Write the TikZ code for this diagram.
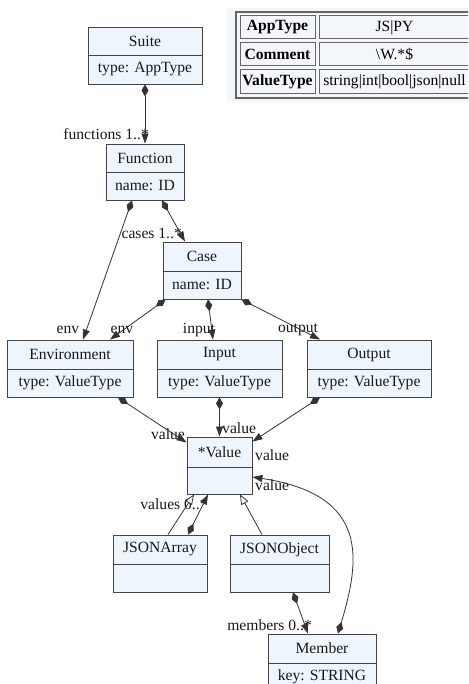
\documentclass[tikz,border=0pt]{standalone}
\usepackage{fontspec}
\setmainfont{Liberation Serif}
\usetikzlibrary{arrows.meta,calc}
\definecolor{nodefill}{HTML}{EEF5FD}
\definecolor{tabfill}{HTML}{F3F7FB}
\definecolor{edgecol}{HTML}{333333}
\definecolor{boxline}{HTML}{444444}
\definecolor{tabline}{HTML}{666666}
\newcommand\umlclass[8]{% name, cx, top, div, bottom, width, title, attr
  \node[cls, minimum width=#6pt, minimum height={#5pt-#3pt}] (#1) at (#2,{(#3+#5)/2}) {};
  \draw[divline] ({#2-#6/2},#4) -- ({#2+#6/2},#4);
  \node[txt] (#1-t) at (#2,{(#3+#4)/2}) {#7};
  \node[txt] (#1-a) at (#2,{(#4+#5)/2}) {#8};
}
\tikzset{
  cls/.style={draw=boxline, fill=nodefill, line width=0.9pt, inner sep=0pt, rectangle},
  divline/.style={draw=boxline, line width=0.9pt},
  txt/.style={font=\fontsize{15.6}{18}\selectfont, inner sep=0pt, text=black!90},
  lbl/.style={font=\fontsize{15.6}{18}\selectfont, inner sep=0pt, text=black!90},
  comp/.style={draw=edgecol, line width=0.8pt, {Diamond[length=12pt,width=7pt]}-{Triangle[length=10pt,width=7pt]}},
  inh/.style={draw=edgecol, line width=0.8pt, -{Triangle[open,length=10pt,width=8pt,fill=white]}},
  cell/.style={draw=tabline, line width=1pt, fill=tabfill, inner sep=0pt, font=\fontsize{15.6}{18}\selectfont},
}
\begin{document}
\begin{tikzpicture}[x=1pt,y=-1pt]
\useasboundingbox (0,0) rectangle (468,684);
\clip (0,0) rectangle (468,684);
\fill[white] (0,0) rectangle (468,684);

% table
\fill[tabfill] (227,8) rectangle (480,102);
\draw[tabline, line width=1.3pt] (236,12) rectangle (472,98);
\node[cell, minimum width=75pt, minimum height=23pt] (t11) at (277.5,27.5) {\textbf{AppType}};
\node[cell, minimum width=151pt, minimum height=23pt] (t12) at (394.5,27.5) {JS|PY};
\node[cell, minimum width=75pt, minimum height=23pt] (t21) at (277.5,54.5) {\textbf{Comment}};
\node[cell, minimum width=151pt, minimum height=23pt] (t22) at (394.5,54.5) {\textbackslash W.*\$};
\node[cell, minimum width=75pt, minimum height=24pt] (t31) at (277.5,82) {\textbf{ValueType}};
\node[cell, minimum width=151pt, minimum height=24pt] (t32) at (394.5,82) {string|int|bool|json|null};

% classes
\umlclass{suite}{145}{27}{55}{84}{114}{Suite}{type: AppType}
\umlclass{func}{145}{144}{172}{200}{78}{Function}{name: ID}
\umlclass{case}{202}{242}{271}{299}{78}{Case}{name: ID}
\umlclass{env}{70}{340}{369}{397}{126}{Environment}{type: ValueType}
\umlclass{input}{219.5}{340}{369}{397}{125}{Input}{type: ValueType}
\umlclass{output}{369}{340}{369}{397}{124}{Output}{type: ValueType}
\umlclass{value}{219.5}{437}{467}{494}{65}{*Value}{}
\umlclass{jarr}{160}{535}{564}{592}{94}{JSONArray}{}
\umlclass{jobj}{279.5}{535}{564}{592}{99}{JSONObject}{}
\umlclass{member}{322}{634}{663}{691}{108}{Member}{key: STRING}

% labels
\node[lbl, anchor=east] (l1) at (149,134) {functions 1..*};
\node[lbl, anchor=east] (l2) at (182,233) {cases 1..*};
\node[lbl] (l3) at (68,330) {env};
\node[lbl] (l4) at (122,330) {env};
\node[lbl] (l5) at (199,330) {input};
\node[lbl] (l6) at (298,330) {output};
\node[lbl] (l7) at (168,434) {value};
\node[lbl, anchor=west] (l8) at (222,428) {value};
\node[lbl, anchor=west] (l9) at (255,455) {value};
\node[lbl, anchor=west] (l10) at (255,485) {value};
\node[lbl] (l11) at (174,504) {values 0..*};
\node[lbl, anchor=east] (l12) at (312,625) {members 0..*};

% connectors
\draw[comp] (suite.south) -- (func.north);
\draw[comp] ($(func.south)+(17,0)$) -- ($(case.north)+(-17,0)$);
\draw[comp] ($(func.south)+(-13,0)$) -- ($(env.north)+(13,0)$);
\draw[comp] ($(case.south west)+(3,0)$) -- ($(env.north)+(40,0)$);
\draw[comp] ($(case.south)+(6,0)$) -- ($(input.north)+(-6.5,0)$);
\draw[comp] (case.south east) -- ($(output.north)+(-49,0)$);
\draw[comp] ($(env.south)+(48,0)$) -- ($(value.north west)+(0,6)$);
\draw[comp] (input.south) -- (value.north);
\draw[comp] ($(output.south)+(-49,0)$) -- ($(value.north east)+(0,5)$);
\draw[comp] ($(member.north)+(16,0)$) .. controls (360,560) and (370,495) .. ($(value.east)+(0,11.5)$);
\draw[inh] ($(jarr.north)+(8,0)$) -- ($(value.south)+(-25.5,0)$);
\draw[comp] ($(jarr.north)+(28,0)$) -- ($(value.south)+(-11.5,0)$);
\draw[inh] ($(jobj.north)+(-17.5,0)$) -- ($(value.south)+(20.5,0)$);
\draw[comp] ($(jobj.south)+(13.5,0)$) -- ($(member.north)+(-14,0)$);
\end{tikzpicture}
\end{document}
